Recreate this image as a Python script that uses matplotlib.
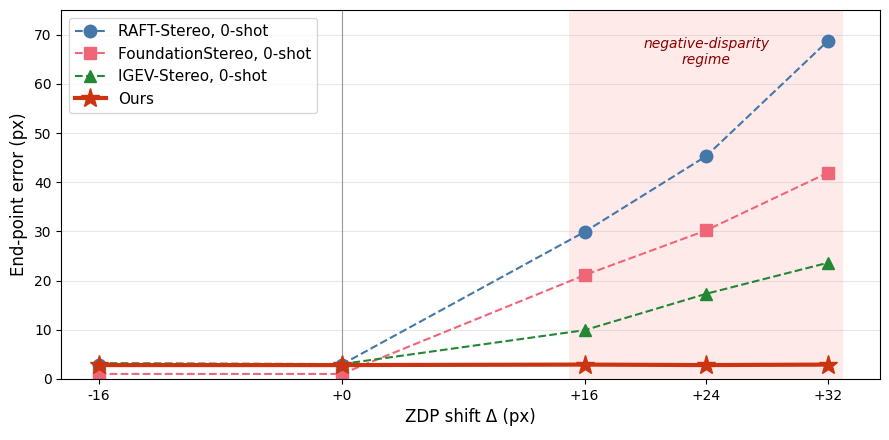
import matplotlib.pyplot as plt

# data
shifts = [-16, 0, 16, 24, 32]
tick_labels = ['-16', '+0', '+16', '+24', '+32']
raft = [2.9, 2.9, 29.9, 45.3, 68.7]
foundation = [1.0, 1.0, 21.1, 30.2, 41.9]
igev = [3.2, 3.0, 9.9, 17.3, 23.6]
ours = [2.8, 2.8, 2.9, 2.8, 2.9]

fig, ax = plt.subplots(figsize=(8.89, 4.4), dpi=100)

ax.axvspan(15, 33, color='#ffcccc', alpha=0.4, lw=0)
ax.axvline(0, color='gray', lw=0.8, alpha=0.8)

ax.plot(shifts, raft, '--o', color='#4477aa', lw=1.5, ms=9, label='RAFT-Stereo, 0-shot')
ax.plot(shifts, foundation, '--s', color='#ee6677', lw=1.5, ms=9, label='FoundationStereo, 0-shot')
ax.plot(shifts, igev, '--^', color='#228833', lw=1.5, ms=9, label='IGEV-Stereo, 0-shot')
ax.plot(shifts, ours, '-*', color='#cc3311', lw=3, ms=14, label='Ours')

ax.text(24, 66.5, 'negative-disparity\nregime', ha='center', va='center',
        fontsize=10, style='italic', color='darkred')

ax.set_xticks(shifts)
ax.set_xticklabels(tick_labels)
ax.set_ylim(0, 75)
ax.grid(axis='y', alpha=0.3)
ax.set_xlabel('ZDP shift Δ (px)', fontsize=12)
ax.set_ylabel('End-point error (px)', fontsize=12)
ax.legend(loc='upper left', fontsize=11)

plt.subplots_adjust(left=0.069, right=0.99, top=0.977, bottom=0.139)
plt.savefig('out.png')
